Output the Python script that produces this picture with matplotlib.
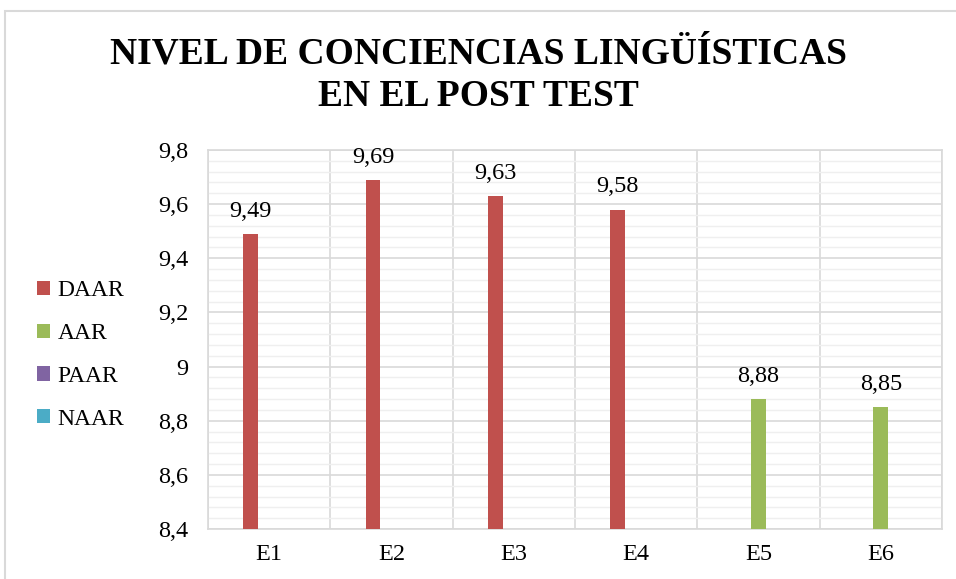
import numpy as np
import matplotlib.pyplot as plt
from matplotlib.patches import Rectangle

categories = ['E1', 'E2', 'E3', 'E4', 'E5', 'E6']
series_names = ['DAAR', 'AAR', 'PAAR', 'NAAR']
daar = [9.49, 9.69, 9.63, 9.58, np.nan, np.nan]
aar = [np.nan, np.nan, np.nan, np.nan, 8.88, 8.85]
paar = [np.nan] * 6
naar = [np.nan] * 6
colors = ['#C0504D', '#9BBB59', '#8064A2', '#4BACC6']

plt.rcParams['font.family'] = ['Liberation Serif', 'DejaVu Serif']

fig = plt.figure(figsize=(9.56, 5.79), dpi=100)
ax = fig.add_axes([208 / 956, 1 - 529 / 579, (942 - 208) / 956, (529 - 150) / 579])

x = np.arange(len(categories))
slot = 0.151
width = 0.122
for i, (name, vals) in enumerate(zip(series_names, [daar, aar, paar, naar])):
    vals = np.array(vals, dtype=float)
    pos = x + (i - 1) * slot
    ax.bar(pos, np.nan_to_num(vals, nan=0), width=width, color=colors[i],
           label=name, zorder=3)
    for p, v in zip(pos, vals):
        if not np.isnan(v):
            ax.text(p, v + 0.045, f'{v:.2f}'.replace('.', ','), ha='center',
                    va='bottom', fontsize=17.5, zorder=4)

ax.set_ylim(8.4, 9.8)
ax.set_xlim(-0.5, len(categories) - 0.5)
ax.set_yticks(np.arange(8.4, 9.81, 0.2))
ax.set_yticklabels(['8,4', '8,6', '8,8', '9', '9,2', '9,4', '9,6', '9,8'], fontsize=17.5)
ax.set_yticks(np.arange(8.4, 9.81, 0.04), minor=True)
ax.set_xticks(x)
ax.set_xticklabels(categories, fontsize=17.5)
ax.set_xticks(np.arange(-0.5, len(categories), 1), minor=True)
ax.tick_params(axis='both', which='both', length=0)
ax.tick_params(axis='y', pad=14)
ax.tick_params(axis='x', pad=11)
ax.grid(axis='y', which='major', color='#D9D9D9', lw=1.2, zorder=1)
ax.grid(axis='y', which='minor', color='#EFEFEF', lw=1.0, zorder=0)
ax.grid(axis='x', which='minor', color='#D9D9D9', lw=1.2, zorder=1)
for s in ax.spines.values():
    s.set_color('#D9D9D9')
    s.set_linewidth(1.2)

fig.legend(loc='center left', bbox_to_anchor=(28 / 956, 1 - 355 / 579), frameon=False,
           fontsize=17, handlelength=0.55, handleheight=0.55, handletextpad=0.3,
           labelspacing=0.92, borderaxespad=0)

fig.text(0.5, 1 - 54 / 579, 'NIVEL DE CONCIENCIAS LINGÜÍSTICAS', ha='center', va='center',
         fontsize=27, fontweight='bold')
fig.text(0.5, 1 - 97 / 579, 'EN EL POST TEST', ha='center', va='center',
         fontsize=27, fontweight='bold')

fig.add_artist(Rectangle((5 / 956, -0.05), 1.1, 1 - 11 / 579 + 0.05, transform=fig.transFigure,
                         fill=False, edgecolor='#D9D9D9', lw=1.5))

fig.savefig('out.png', dpi=100)
